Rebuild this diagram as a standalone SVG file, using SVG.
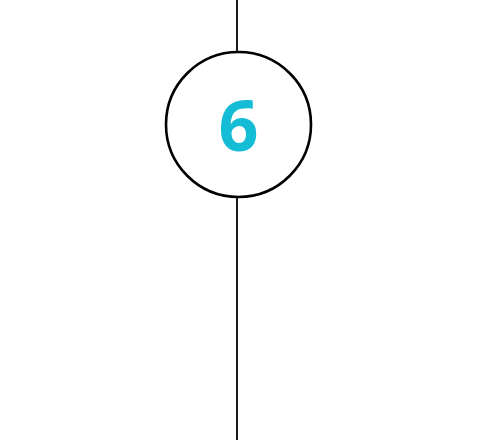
<svg xmlns="http://www.w3.org/2000/svg" width="478" height="440" viewBox="0 0 478 440">
<style>
.conn{stroke:#000;stroke-width:1.8;fill:none}
.node{fill:#fff;stroke:#000;stroke-width:2.6}
.num{font-family:"Open Sans","Liberation Sans",sans-serif;font-weight:bold;font-size:70px;fill:#14BCD6;text-anchor:middle}
</style>
<rect width="478" height="440" fill="#fff"/>
<g id="connectors">
<line class="conn" x1="237" y1="0" x2="237" y2="52"/>
<line class="conn" x1="237" y1="197" x2="237" y2="440"/>
</g>
<g id="node6">
<circle class="node" cx="238.5" cy="124.5" r="72.5"/>
<text class="num" x="238.5" y="151">6</text>
</g>
</svg>
